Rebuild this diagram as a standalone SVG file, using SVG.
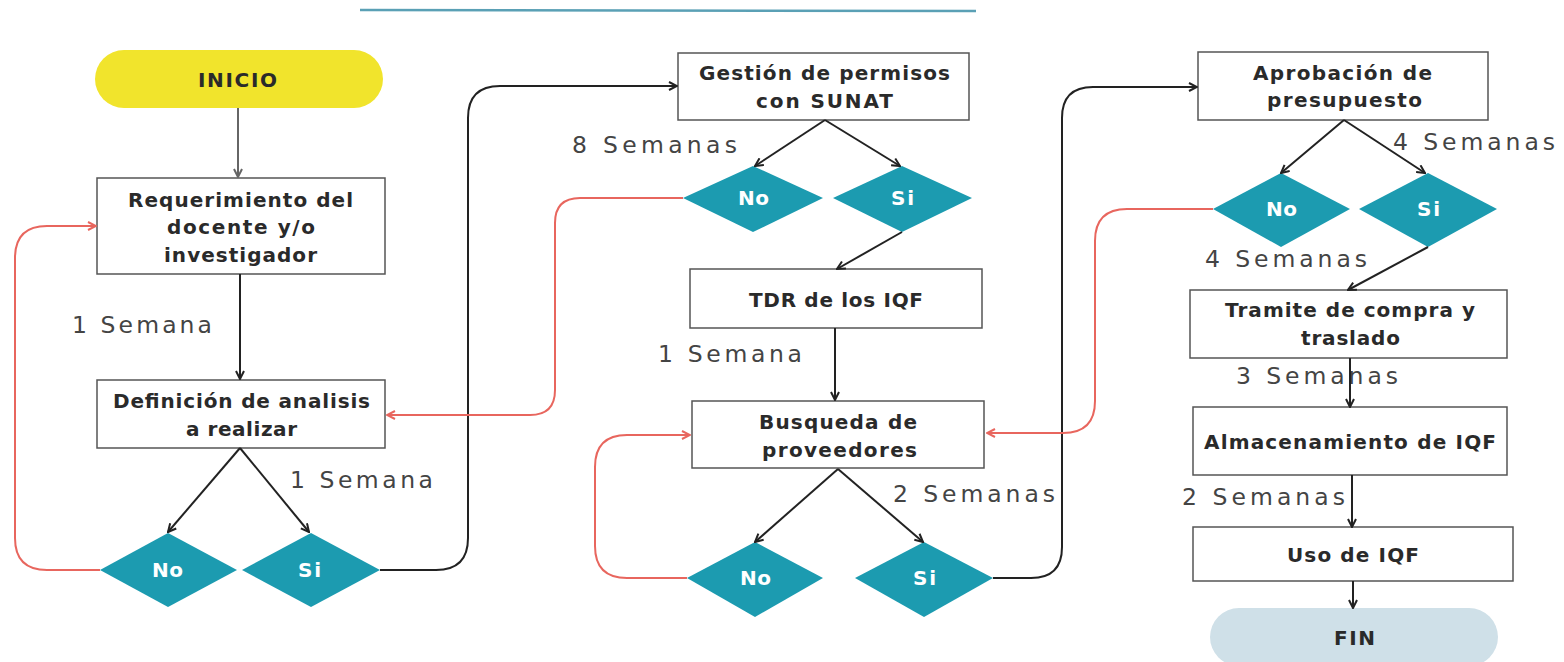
<svg xmlns="http://www.w3.org/2000/svg" width="1564" height="662" viewBox="0 0 1564 662">
<defs>
<style>
.box{fill:#fff;stroke:#555;stroke-width:1.5}
.dia{fill:#1c9bb0}
.b{font-family:"DejaVu Sans","Liberation Sans",sans-serif;font-weight:bold;font-size:20px;fill:#2a2a2a}
.w{font-family:"DejaVu Sans","Liberation Sans",sans-serif;font-weight:bold;font-size:20px;fill:#fff}
.r{font-family:"DejaVu Sans","Liberation Sans",sans-serif;font-size:23.5px;fill:#444}
.k{fill:none;stroke:#222;stroke-width:2}
.g{fill:none;stroke:#666;stroke-width:2}
.red{fill:none;stroke:#e8665e;stroke-width:2}
</style>
<marker id="mk" viewBox="0 0 10 10" refX="9" refY="5" markerWidth="10" markerHeight="10" markerUnits="userSpaceOnUse" orient="auto"><path d="M1,1 L9,5 L1,9" fill="none" stroke="#222" stroke-width="2"/></marker>
<marker id="mg" viewBox="0 0 10 10" refX="9" refY="5" markerWidth="10" markerHeight="10" markerUnits="userSpaceOnUse" orient="auto"><path d="M1,1 L9,5 L1,9" fill="none" stroke="#666" stroke-width="2"/></marker>
<marker id="mr" viewBox="0 0 10 10" refX="9" refY="5" markerWidth="10" markerHeight="10" markerUnits="userSpaceOnUse" orient="auto"><path d="M1,1 L9,5 L1,9" fill="none" stroke="#e8665e" stroke-width="2"/></marker>
</defs>
<rect width="1564" height="662" fill="#fff"/>
<line x1="360" y1="10" x2="976" y2="11" stroke="#5aa0b5" stroke-width="2.5"/>

<g id="inicio"><rect x="95" y="50" width="288" height="58" rx="29" fill="#f1e42c"/><text class="b" x="198" y="87" textLength="79">INICIO</text></g>
<g id="requerimiento"><rect class="box" x="97" y="178" width="288" height="96"/><text class="b" x="128" y="207" textLength="225">Requerimiento del</text><text class="b" x="167" y="234" textLength="148">docente y/o</text><text class="b" x="164" y="262" textLength="153">investigador</text></g>
<g id="definicion"><rect class="box" x="97" y="380" width="288" height="68"/><text class="b" x="113" y="408" textLength="257">Definición de analisis</text><text class="b" x="186" y="436" textLength="111">a realizar</text></g>
<g id="no1"><polygon class="dia" points="100,570 168,533 237,570 168,607"/><text class="w" x="152" y="577" textLength="31">No</text></g>
<g id="si1"><polygon class="dia" points="242,570 311,533 380,570 311,607"/><text class="w" x="298" y="577" textLength="23">Si</text></g>

<g id="gestion"><rect class="box" x="678" y="53" width="291" height="67"/><text class="b" x="699" y="80" textLength="251">Gestión de permisos</text><text class="b" x="756" y="108" textLength="137">con SUNAT</text></g>
<g id="no2"><polygon class="dia" points="683,198 753,166 823,198 753,232"/><text class="w" x="738" y="205" textLength="31">No</text></g>
<g id="si2"><polygon class="dia" points="833,198 902,166 972,198 902,232"/><text class="w" x="891" y="205" textLength="23">Si</text></g>
<g id="tdr"><rect class="box" x="690" y="269" width="292" height="59"/><text class="b" x="749" y="307" textLength="174">TDR de los IQF</text></g>
<g id="busqueda"><rect class="box" x="692" y="401" width="292" height="67"/><text class="b" x="759" y="429" textLength="158">Busqueda de</text><text class="b" x="762" y="457" textLength="155">proveedores</text></g>
<g id="no3"><polygon class="dia" points="687,578 755,542 823,578 755,617"/><text class="w" x="740" y="585" textLength="31">No</text></g>
<g id="si3"><polygon class="dia" points="855,578 924,542 993,578 924,617"/><text class="w" x="913" y="585" textLength="23">Si</text></g>

<g id="aprobacion"><rect class="box" x="1198" y="52" width="290" height="68"/><text class="b" x="1253" y="80" textLength="179">Aprobación de</text><text class="b" x="1267" y="107" textLength="155">presupuesto</text></g>
<g id="no4"><polygon class="dia" points="1213,209 1281,173 1350,209 1281,247"/><text class="w" x="1266" y="216" textLength="31">No</text></g>
<g id="si4"><polygon class="dia" points="1359,209 1428,173 1497,209 1428,247"/><text class="w" x="1417" y="216" textLength="23">Si</text></g>
<g id="tramite"><rect class="box" x="1190" y="290" width="317" height="68"/><text class="b" x="1225" y="317" textLength="250">Tramite de compra y</text><text class="b" x="1301" y="345" textLength="99">traslado</text></g>
<g id="almacenamiento"><rect class="box" x="1193" y="407" width="314" height="68"/><text class="b" x="1204" y="449" textLength="292">Almacenamiento de IQF</text></g>
<g id="uso"><rect class="box" x="1193" y="527" width="320" height="54"/><text class="b" x="1287" y="562" textLength="132">Uso de IQF</text></g>
<g id="fin"><rect x="1210" y="608" width="288" height="58" rx="29" fill="#cfe0e8"/><text class="b" x="1334" y="645" textLength="41">FIN</text></g>

<g id="labels">
<text class="r" x="72" y="333" textLength="140">1 Semana</text>
<text class="r" x="290" y="488" textLength="143">1 Semana</text>
<text class="r" x="572" y="153" textLength="165">8 Semanas</text>
<text class="r" x="658" y="362" textLength="144">1 Semana</text>
<text class="r" x="893" y="502" textLength="162">2 Semanas</text>
<text class="r" x="1393" y="150" textLength="162">4 Semanas</text>
<text class="r" x="1205" y="267" textLength="162">4 Semanas</text>
<text class="r" x="1236" y="384" textLength="162">3 Semanas</text>
<text class="r" x="1182" y="505" textLength="163">2 Semanas</text>
</g>

<g id="connectors">
<path class="g" d="M238,108 V177" marker-end="url(#mg)"/>
<path class="k" d="M240,274 V379" marker-end="url(#mk)"/>
<path class="k" d="M240,448 L168,532" marker-end="url(#mk)"/>
<path class="k" d="M240,448 L309,532" marker-end="url(#mk)"/>
<path class="red" d="M100,570 H47 Q15,570 15,538 V258 Q15,226 47,226 H96" marker-end="url(#mr)"/>
<path class="k" d="M380,570 H436 Q468,570 468,538 V118 Q468,86 500,86 H677" marker-end="url(#mk)"/>
<path class="k" d="M825,120 L755,166" marker-end="url(#mk)"/>
<path class="k" d="M825,120 L900,166" marker-end="url(#mk)"/>
<path class="k" d="M902,232 L837,269" marker-end="url(#mk)"/>
<path class="red" d="M683,198 H580 Q555,198 555,223 V390 Q555,415 530,415 H387" marker-end="url(#mr)"/>
<path class="k" d="M835,328 V400" marker-end="url(#mk)"/>
<path class="k" d="M838,469 L755,542" marker-end="url(#mk)"/>
<path class="k" d="M838,469 L923,542" marker-end="url(#mk)"/>
<path class="red" d="M687,578 H627 Q595,578 595,546 V467 Q595,435 627,435 H690" marker-end="url(#mr)"/>
<path class="k" d="M993,578 H1031 Q1062,578 1062,547 V118 Q1062,87 1093,87 H1197" marker-end="url(#mk)"/>
<path class="k" d="M1344,120 L1281,173" marker-end="url(#mk)"/>
<path class="k" d="M1344,120 L1425,173" marker-end="url(#mk)"/>
<path class="k" d="M1428,247 L1348,290" marker-end="url(#mk)"/>
<path class="red" d="M1213,209 H1127 Q1095,209 1095,241 V401 Q1095,433 1063,433 H987" marker-end="url(#mr)"/>
<path class="k" d="M1350,358 V407" marker-end="url(#mk)"/>
<path class="k" d="M1352,475 V527" marker-end="url(#mk)"/>
<path class="k" d="M1353,581 V608" marker-end="url(#mk)"/>
</g>
</svg>
